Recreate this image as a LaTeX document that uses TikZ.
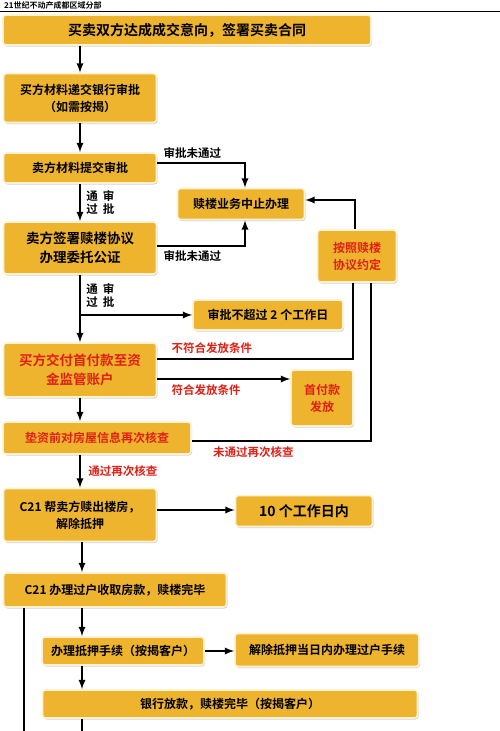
\documentclass[tikz,border=0pt]{standalone}
\usepackage{fontspec}
\setmainfont{Noto Sans CJK SC}[BoldFont={Noto Sans CJK SC Bold}]
\usepackage{tikz}
\usetikzlibrary{%
  arrows,%
  calc,%
  shadows%
}
\definecolor{boxfill}{RGB}{238,180,45}
\definecolor{boxrim}{RGB}{253,243,212}
\definecolor{alert}{RGB}{224,32,22}
\tikzset{>=latex}
\tikzset{>=latex, stage/.style = {draw=boxrim, line width=1.6pt, fill=boxfill,
        rounded corners=3pt, align=center, inner sep=2pt,
        drop shadow={shadow xshift=1pt, shadow yshift=-1.5pt, fill=black!35},
        font=\bfseries\fontsize{12}{17}\selectfont},%
        alertstage/.style={stage, text=alert},%
        flow/.style={->, line width=2.2pt},%
        link/.style={line width=2.2pt},%
        note/.style={font=\bfseries\fontsize{11.5}{13}\selectfont},%
        alertnote/.style={note, text=alert}}

\begin{document}
\begin{tikzpicture}[x=1pt, y=-1pt]
          \useasboundingbox (0,0) rectangle (500,731);
          \node[anchor=west, inner sep=0pt, font=\bfseries\fontsize{8}{9}\selectfont] (head) at (4,5) {21世纪不动产成都区域分部};
          \draw[line width=0.8pt] (0,11) -- (500,11);

          \node[stage, minimum width=368, minimum height=30, font=\bfseries\fontsize{14}{17}\selectfont] (deal) at (187,30) {买卖双方达成成交意向，签署买卖合同};
          \node[stage, minimum width=153, minimum height=49] (bank) at (80,98) {买方材料递交银行审批\\（如需按揭）};
          \node[stage, minimum width=153, minimum height=30] (sell) at (80,168) {卖方材料提交审批};
          \node[stage, minimum width=153, minimum height=52, font=\bfseries\fontsize{13.5}{19}\selectfont] (sign) at (80,248) {卖方签署赎楼协议\\办理委托公证};
          \node[stage, minimum width=127, minimum height=31] (stop) at (241,204) {赎楼业务中止办理};
          \node[alertstage, minimum width=79, minimum height=52] (agree) at (357,256) {按照赎楼\\协议约定};
          \node[stage, minimum width=150, minimum height=30] (days2) at (268,315) {审批不超过 2 个工作日};
          \node[alertstage, minimum width=153, minimum height=54, font=\bfseries\fontsize{13.5}{19}\selectfont] (pay) at (80,370) {买方交付首付款至资\\金监管账户};
          \node[alertstage, minimum width=62, minimum height=56] (release) at (322,398) {首付款\\发放};
          \node[alertstage, minimum width=188, minimum height=32] (check) at (97,438) {垫资前对房屋信息再次核查};
          \node[stage, minimum width=153, minimum height=53] (redeem) at (80,515) {C21 帮卖方赎出楼房，\\解除抵押};
          \node[stage, minimum width=137, minimum height=31, font=\bfseries\fontsize{14}{17}\selectfont] (days10) at (304,511) {10 个工作日内};
          \node[stage, minimum width=223, minimum height=34] (transfer) at (115,590) {C21 办理过户收取房款，赎楼完毕};
          \node[stage, minimum width=162, minimum height=28] (mortgage) at (123,651) {办理抵押手续（按揭客户）};
          \node[stage, minimum width=184, minimum height=33] (sameday) at (327,650) {解除抵押当日内办理过户手续};
          \node[stage, minimum width=375, minimum height=28] (loan) at (230,704) {银行放款，赎楼完毕（按揭客户）};

          \draw[flow] (bank |- deal.south) -- (bank.north);
          \draw[flow] (bank.south) -- (sell.north);
          \draw[flow] (sell.south) -- (sign.north)
          node[midway, right=2pt, note, align=left] {通\hspace{5pt}审\\过\hspace{5pt}批};
          \draw[flow] ([yshift=5pt]sell.east) -| ([xshift=4pt]stop.north)
          node[pos=0, anchor=south west, xshift=2pt, note] {审批未通过};
          \draw[flow] ([yshift=2pt]sign.east) -| ([xshift=4pt]stop.south)
          node[pos=0, anchor=north west, xshift=2pt, note] {审批未通过};
          \draw[flow] ([xshift=-2pt]agree.north) |- ([yshift=4pt]stop.east);

          \draw[flow] (sign.south) -- (pay.north)
          node[pos=0.3, right=2pt, note, align=left] {通\hspace{5pt}审\\过\hspace{5pt}批};
          \draw[flow] (sign.south |- days2.west) -- (days2.west);

          \coordinate (fail) at ([yshift=11pt]pay.east);
          \coordinate (pass) at ([yshift=-9pt]pay.east);
          \draw[link] (fail) -| ([xshift=-4pt]agree.south)
          node[pos=0, anchor=south west, xshift=10pt, yshift=1pt, alertnote] {不符合发放条件};
          \draw[flow] (pass) -- (pass -| release.west)
          node[pos=0, anchor=north west, xshift=10pt, yshift=-1pt, alertnote] {符合发放条件};
          \draw[flow] (pay.south) -- (pay.south |- check.north);
          \draw[link] ([yshift=-3pt]check.east) -| ([xshift=14pt]agree.south)
          node[pos=0, anchor=north west, xshift=17pt, yshift=-1pt, alertnote] {未通过再次核查};
          \draw[flow] (pay.south |- check.south) -- (redeem.north)
          node[midway, right=4pt, alertnote] {通过再次核查};

          \draw[flow] ([yshift=5pt]redeem.east) -- ([yshift=5pt]redeem.east -| days10.west);
          \coordinate (spine) at (82,0);
          \draw[flow] (spine |- redeem.south) -- (spine |- transfer.north);
          \draw[flow] (spine |- transfer.south) -- (spine |- mortgage.north);
          \draw[flow] (mortgage.east) -- (mortgage.east -| sameday.west);
          \draw[flow] (spine |- mortgage.south) -- (spine |- loan.north);
          \coordinate (tail) at (82,731);
          \coordinate (side) at (24,731);
          \draw[link] (spine |- loan.south) -- (tail);
          \draw[link] (side |- transfer.south) -- (side);
        \end{tikzpicture}
\end{document}
